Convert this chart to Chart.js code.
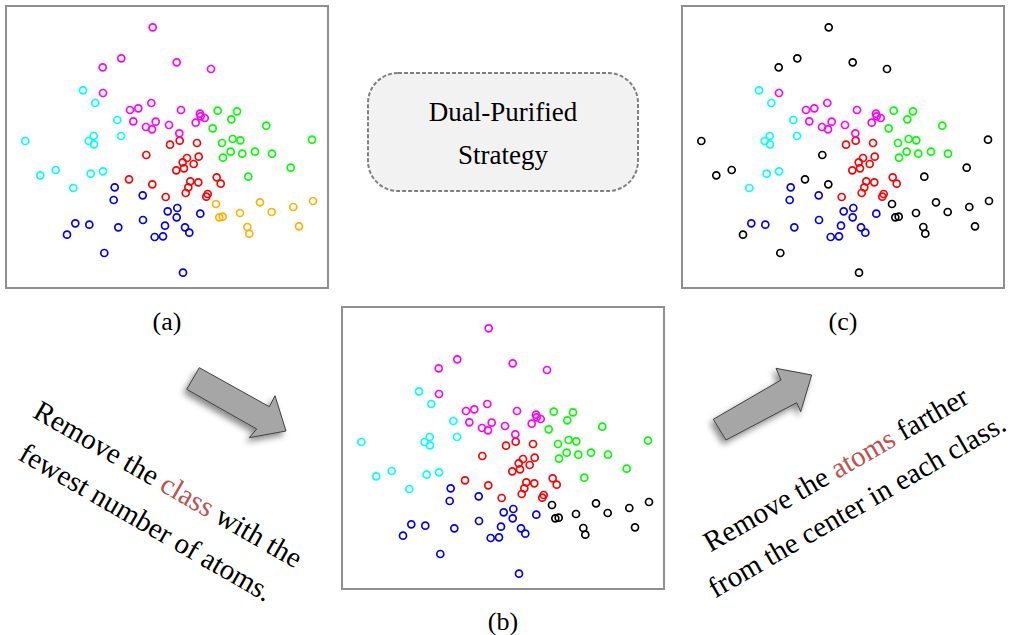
<!DOCTYPE html>
<html>
<head>
<meta charset="utf-8">
<script src="https://cdn.jsdelivr.net/npm/chart.js@4"></script>
<style>
  body { margin: 0; width: 1011px; height: 635px; background: #fff; position: relative; overflow: hidden;
         font-family: "Liberation Serif", "Times New Roman", serif; }
  .panel { position: absolute; width: 320px; height: 280px; border: 2px solid #8f8f8f; background: #fff; }
  .panel canvas { display: block; }
  .label { position: absolute; font-size: 26px; transform: translate(-50%, -50%); white-space: nowrap; }
  .note { position: absolute; font-size: 29px; text-align: center; white-space: pre; color: #000; }
  .note span { color: #c0504d; }
  #strategy { position: absolute; left: 367px; top: 91px; width: 272px; font-size: 27px; line-height: 43px; text-align: center; }
  svg { position: absolute; left: 0; top: 0; }
</style>
</head>
<body>
<svg width="1011" height="635">
  <defs>
    <filter id="shade" x="-30%" y="-30%" width="160%" height="160%">
      <feDropShadow dx="-3" dy="4" stdDeviation="3" flood-color="#000" flood-opacity="0.45"/>
    </filter>
  </defs>
  <rect x="368" y="73" width="270" height="118" rx="30" ry="30" fill="#f2f2f2" stroke="#808080" stroke-width="2" stroke-dasharray="4 2"/>
  <polygon filter="url(#shade)" fill="#a6a6a6" stroke="#404040" stroke-width="1"
    points="199.3,367.7 269.3,406.7 275,395.7 286,431 249.3,437.7 256.7,429 186.7,389.3"/>
  <polygon filter="url(#shade)" fill="#a6a6a6" stroke="#404040" stroke-width="1"
    points="713.3,419.3 726,440 796.7,402.7 800.7,411.7 811.7,375 776,368.3 781,380"/>
</svg>

<div class="panel" style="left:5px; top:5px;"><canvas id="chartA" width="320" height="280"></canvas></div>
<div class="panel" style="left:341px; top:306px;"><canvas id="chartB" width="320" height="280"></canvas></div>
<div class="panel" style="left:681px; top:5px;"><canvas id="chartC" width="320" height="280"></canvas></div>

<div id="strategy">Dual-Purified<br>Strategy</div>

<div class="label" style="left:167px; top:322px;">(a)</div>
<div class="label" style="left:503px; top:622px;">(b)</div>
<div class="label" style="left:843px; top:322px;">(c)</div>

<div class="note" id="noteLeft" style="line-height:44px;">Remove the <span>class</span> with the
fewest number of atoms.</div>
<div class="note" id="noteRight" style="line-height:42px;">Remove the <span>atoms</span> farther
from the center in each class.</div>

<script>
// ===== Embedding points (same layout in all three panels) =====
// [x, y] in panel units, y measured downward from the top

const magentaPts = [[145.7, 20.3], [114.3, 51.3], [95.7, 60.3], [96, 86], [144.3, 96], [123, 103],
  [131.3, 101.3], [126.3, 114.3], [139, 120], [148.7, 114.7], [145, 122.3], [162, 118],
  [169.7, 55.3], [204, 62], [174, 103], [193, 106.7], [193.7, 109.3], [188.7, 115.7],
  [197.7, 111], [172.3, 126.3]];
const magentaFar = [0, 1, 2, 12, 13];

const cyanPts = [[76, 83.3], [88.3, 96], [110.3, 113], [18.3, 134], [86.7, 129], [81.7, 134],
  [87, 137.3], [114, 129], [48.7, 163], [33.3, 168.3], [83.7, 166.7], [96, 164.3], [66.3, 181]];
const cyanFar = [3, 8, 9];

const redPts = [[163, 137.7], [139.3, 148], [122, 172.3], [145.3, 177.3], [158.7, 190],
  [172.7, 133.7], [190, 136], [180, 151], [191.7, 149.7], [175.7, 155.3], [186.7, 157],
  [177, 161.3], [169.3, 163.3], [209.7, 170.3], [213.7, 176.7], [183.3, 174.3], [191.3, 175.3],
  [181.3, 180.3], [178.7, 186], [200.7, 187], [199.3, 189.7]];
const redFar = [1, 2, 3];

const bluePts = [[107.7, 180.3], [106.7, 193], [135.7, 188.3], [160.7, 204.3], [136, 213],
  [158, 218.7], [147.7, 230], [156, 229.3], [68.3, 216.3], [82.3, 217.7], [60, 227.7],
  [111.3, 220.3], [97.3, 246], [170.3, 201], [169.7, 210.3], [193.3, 206.7], [178, 220.3],
  [182.3, 225.7], [176, 265.7]];
const blueFar = [10, 12, 18];

const greenPts = [[210.7, 103.7], [230, 104.3], [224.3, 112.3], [205.7, 121.3], [259.3, 118.7],
  [215, 136], [225.7, 132], [233.3, 133.3], [305, 132.7], [223.7, 144.7], [216, 150.7],
  [235.3, 146.7], [248, 144.7], [265, 146.7], [283.7, 160.7], [241.3, 169.7]];
const greenFar = [8, 14, 15];

// smallest class, removed after the first step
const orangePts = [[209, 197], [212.3, 210.3], [215.7, 209.7], [233, 206], [253, 195.3],
  [264.7, 205], [286.3, 200], [306, 194], [240.3, 220], [242.3, 226.7], [292, 219.3]];

const classes = [
  { name: 'magenta', color: '#ff00ff', pts: magentaPts, far: magentaFar },
  { name: 'cyan', color: '#00ffff', pts: cyanPts, far: cyanFar },
  { name: 'red', color: '#ff0000', pts: redPts, far: redFar },
  { name: 'blue', color: '#0000ff', pts: bluePts, far: blueFar },
  { name: 'green', color: '#00ff00', pts: greenPts, far: greenFar },
  { name: 'orange', color: '#ffb000', pts: orangePts, far: [], dropped: true }
];

// Build datasets for one stage: 'a' original, 'b' class removed, 'c' far atoms removed
function stageDatasets(stage) {
  const sets = [];
  classes.forEach(c => {
    const kept = [], removed = [];
    c.pts.forEach((p, i) => {
      const gone = (stage !== 'a' && c.dropped) || (stage === 'c' && c.far.includes(i));
      (gone ? removed : kept).push({ x: p[0], y: p[1] });
    });
    if (kept.length) sets.push(pointSet(c.name, kept, c.color));
    if (removed.length) sets.push(pointSet(c.name + ' removed', removed, '#000000'));
  });
  return sets;
}

function pointSet(label, data, color) {
  return {
    label: label,
    data: data,
    borderColor: color,
    backgroundColor: 'rgba(0,0,0,0)',
    pointRadius: 3.5,
    pointBorderWidth: 1.7,
    pointHoverRadius: 3.5,
    clip: false
  };
}

function drawPanel(id, stage) {
  new Chart(document.getElementById(id), {
    type: 'scatter',
    data: { datasets: stageDatasets(stage) },
    options: {
      responsive: false,
      animation: false,
      events: [],
      layout: { padding: 0, autoPadding: false },
      plugins: { legend: { display: false }, tooltip: { enabled: false } },
      scales: {
        x: { type: 'linear', min: 0, max: 320, display: false },
        y: { type: 'linear', min: 0, max: 280, reverse: true, display: false }
      }
    }
  });
}

drawPanel('chartA', 'a');
drawPanel('chartB', 'b');
drawPanel('chartC', 'c');

// Rotated notes, placed by their centre
function placeNote(id, cx, cy, deg) {
  const el = document.getElementById(id);
  el.style.left = (cx - el.offsetWidth / 2) + 'px';
  el.style.top = (cy - el.offsetHeight / 2) + 'px';
  el.style.transform = 'rotate(' + deg + 'deg)';
}
placeNote('noteLeft', 157, 503, 30);
placeNote('noteRight', 846, 487, -30);
</script>
</body>
</html>
